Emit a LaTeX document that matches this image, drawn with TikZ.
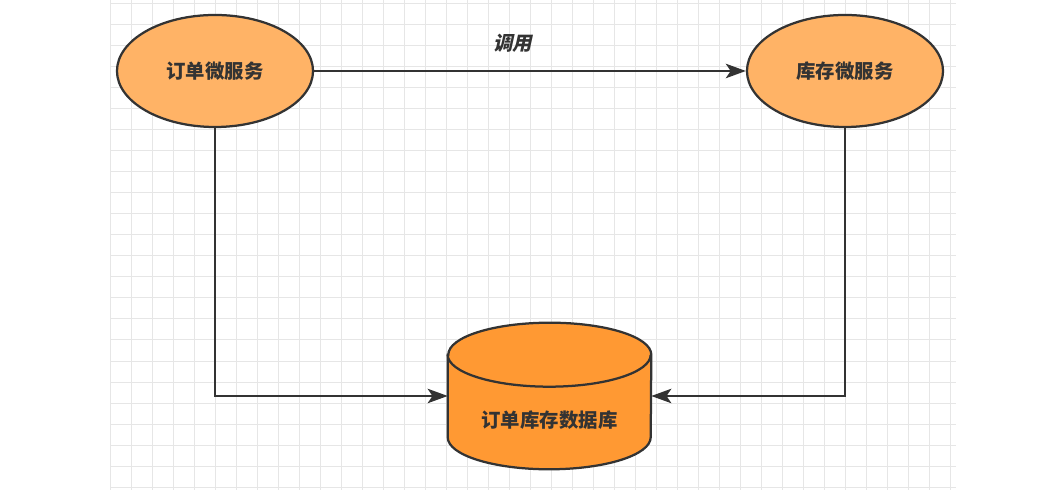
\documentclass[tikz,border=0pt]{standalone}
\usepackage{fontspec}
\setmainfont{Noto Sans CJK SC}
\newfontfamily\slantcjk[FakeSlant=0.22]{Noto Sans CJK SC}
\usepackage{tikz}
\usetikzlibrary{arrows.meta,shapes.geometric,calc,backgrounds}
\definecolor{inklight}{RGB}{51,51,51}
\definecolor{svcorange}{RGB}{255,179,102}
\definecolor{dborange}{RGB}{255,153,51}
\definecolor{gridgray}{RGB}{230,230,230}

\begin{document}
\begin{tikzpicture}[
  x=0.025cm, y=0.025cm,
  gridline/.style={draw=gridgray, line width=0.7pt},
  service/.style={ellipse, draw=inklight, line width=1.6pt, fill=svcorange,
                  minimum width=4.9cm, minimum height=2.8cm,
                  font=\fontsize{13.8}{16}\selectfont\bfseries, text=inklight},
  dbbody/.style={draw=inklight, line width=1.6pt, fill=dborange},
  flow/.style={-{Stealth[length=5mm, width=3.6mm, inset=1.2mm]}, line width=1.6pt, color=inklight}
]
  \useasboundingbox (0,0) rectangle (1038,490);

  % grid paper
  \foreach \gx in {110,131,...,956}
    \draw[gridline] (\gx,0) -- (\gx,490);
  \foreach \gy in {3,24,...,490}
    \draw[gridline] (110,\gy) -- (956,\gy);

  \node[service] (order) at (215,419) {订单微服务};
  \node[service] (stock) at (845,419) {库存微服务};

  % database cylinder
  \node[minimum width=5.075cm, minimum height=3.65cm, inner sep=0pt] (db) at (549.5,94) {};
  \filldraw[dbbody] ($(db.north west)+(0,-32)$) -- ($(db.south west)+(0,32)$)
    arc[start angle=180, end angle=360, x radius=101.5, y radius=32]
    -- ($(db.north east)+(0,-32)$)
    arc[start angle=0, end angle=180, x radius=101.5, y radius=32] -- cycle;
  \draw[dbbody, fill=none] ($(db.north west)+(0,-32)$)
    arc[start angle=180, end angle=360, x radius=101.5, y radius=32];
  \node[font=\fontsize{13.8}{16}\selectfont\bfseries, text=inklight] (dbname)
    at ($(db.center)+(0,-24)$) {订单库存数据库};

  \draw[flow] (order) -- (stock)
    node[pos=0.46, above=3.2mm, font=\fontsize{13.8}{16}\selectfont\slantcjk\bfseries, text=inklight] (call) {调用};
  \draw[flow] (order) |- (db);
  \draw[flow] (stock) |- (db);
\end{tikzpicture}
\end{document}
